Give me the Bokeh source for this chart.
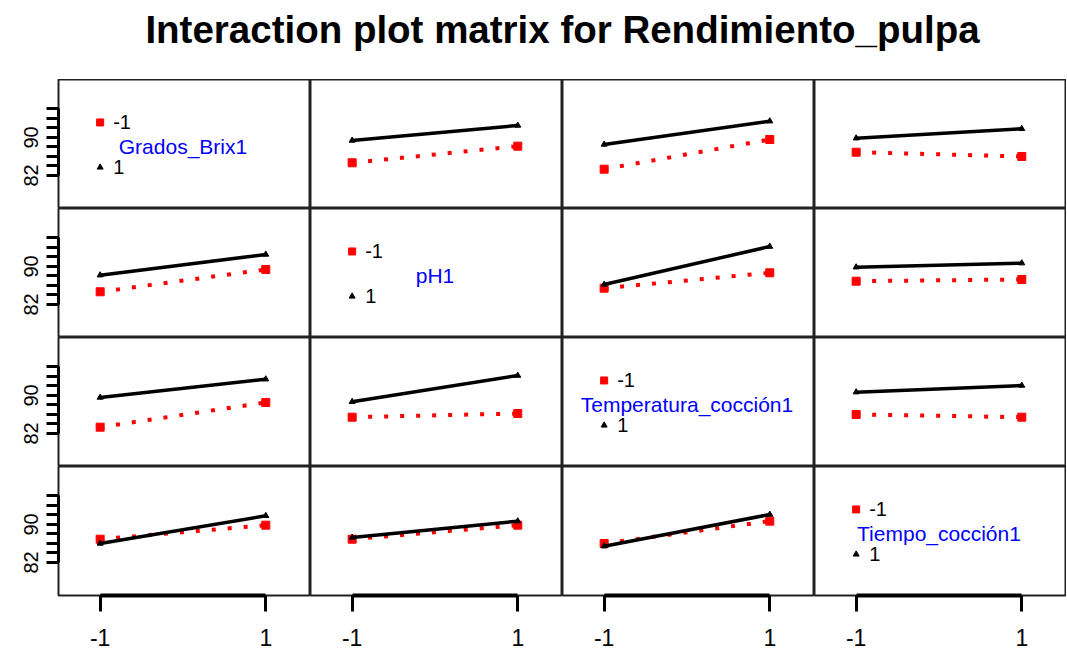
from bokeh.plotting import figure
from bokeh.layouts import gridplot, column
from bokeh.models import Range1d, FixedTicker, ColumnDataSource, Title
from bokeh.core.properties import value
from bokeh.embed import file_html
from bokeh.resources import INLINE

# ---------------- data ----------------
title_text = "Interaction plot matrix for Rendimiento_pulpa"
factor_names = ["Grados_Brix1", "pH1", "Temperatura_cocción1", "Tiempo_cocción1"]
levels = [-1, 1]
level_labels = ["-1", "1"]

# cell means: rows = level (-1, 1) of first factor, cols = level (-1, 1) of second factor
brix_ph = [[84.67, 88.17], [89.37, 92.53]]
brix_temp = [[83.33, 89.58], [88.53, 93.43]]
brix_tiempo = [[86.90, 86.00], [89.85, 91.83]]
ph_temp = [[85.43, 88.67], [86.20, 94.20]]
ph_tiempo = [[86.90, 87.26], [89.85, 90.70]]
temp_tiempo = [[86.00, 85.43], [90.70, 92.10]]

y_ticks = [82, 84, 86, 88, 90, 92, 94, 96]
y_tick_labels = {82: "82", 90: "90"}
x_ticks = [-1, 1]
x_tick_labels = {-1: "-1", 1: "1"}

pair_means = {(0, 1): brix_ph, (0, 2): brix_temp, (0, 3): brix_tiempo,
              (1, 2): ph_temp, (1, 3): ph_tiempo, (2, 3): temp_tiempo}


def cell_means(i, j):
    """2x2 table: rows = level of factor i (trace), cols = level of factor j (x axis)."""
    if (i, j) in pair_means:
        return pair_means[(i, j)]
    m = pair_means[(j, i)]
    return [[m[0][0], m[1][0]], [m[0][1], m[1][1]]]


# ---------------- layout / style ----------------
FONT = "Liberation Sans"
LEFT, CELL_W, CELL_H, TOP, BOTTOM = 58, 252, 129, 79, 54
X_LO, X_HI = -1.503, 1.54
Y_LO, Y_HI = 75.05, 102.2
RED = "#FF0000"
BLUE = "#0000FF"

rows = []
for i in range(4):
    row = []
    for j in range(4):
        w = CELL_W + (LEFT if j == 0 else 0)
        h = CELL_H + (BOTTOM if i == 3 else 0)
        p = figure(width=w, height=h,
                   x_range=Range1d(X_LO, X_HI), y_range=Range1d(Y_LO, Y_HI),
                   toolbar_location=None, output_backend="svg",
                   x_axis_location="below" if i == 3 else None,
                   y_axis_location="left" if j == 0 else None,
                   min_border_left=LEFT if j == 0 else 0, min_border_right=0,
                   min_border_top=0, min_border_bottom=BOTTOM if i == 3 else 0)
        p.xgrid.visible = False
        p.ygrid.visible = False
        p.outline_line_color = "#222222"
        p.outline_line_width = 2
        p.background_fill_color = "white"
        p.border_fill_color = "white"

        if j == 0:
            ax = p.yaxis[0]
            ax.ticker = FixedTicker(ticks=y_ticks)
            ax.major_label_overrides = {t: y_tick_labels.get(t, "") for t in y_ticks}
            ax.bounds = (y_ticks[0], y_ticks[-1])
            ax.axis_line_width = 3
            ax.axis_line_color = "black"
            ax.major_tick_line_width = 3
            ax.major_tick_out = 12
            ax.major_tick_in = 0
            ax.minor_tick_line_color = None
            ax.major_label_orientation = "vertical"
            ax.major_label_text_font = FONT
            ax.major_label_text_font_size = "20px"
            ax.major_label_text_color = "black"
            ax.major_label_standoff = 8
        if i == 3:
            ax = p.xaxis[0]
            ax.ticker = FixedTicker(ticks=x_ticks)
            ax.major_label_overrides = x_tick_labels
            ax.bounds = (x_ticks[0], x_ticks[-1])
            ax.axis_line_width = 4
            ax.axis_line_color = "black"
            ax.major_tick_line_width = 3
            ax.major_tick_out = 16
            ax.major_tick_in = 0
            ax.minor_tick_line_color = None
            ax.major_label_text_font = FONT
            ax.major_label_text_font_size = "23px"
            ax.major_label_text_color = "black"
            ax.major_label_standoff = 17

        if i == j:
            span = Y_HI - Y_LO
            y_a = Y_LO + 0.667 * span
            y_b = Y_LO + 0.477 * span
            y_c = Y_LO + 0.319 * span
            x_l = levels[0]
            p.scatter(x=[x_l], y=[y_a], marker="square", size=7, color=RED)
            p.scatter(x=[x_l], y=[y_c], marker="triangle", size=6, color="black")
            p.text(x=[x_l, x_l], y=[y_a, y_c], text=level_labels, x_offset=13,
                   text_font=value(FONT), text_font_size="20px", text_color="black",
                   text_align="left", text_baseline="middle")
            p.text(x=[(levels[0] + levels[1]) / 2], y=[y_b], text=[factor_names[i]],
                   text_font=value(FONT), text_font_size="21px", text_color=BLUE,
                   text_align="center", text_baseline="middle")
        else:
            m = cell_means(i, j)
            src_lo = ColumnDataSource(dict(x=levels, y=m[0]))
            src_hi = ColumnDataSource(dict(x=levels, y=m[1]))
            p.line("x", "y", source=src_lo, line_color=RED, line_width=4, line_dash="4 12")
            p.scatter("x", "y", source=src_lo, marker="square", size=8, color=RED)
            p.line("x", "y", source=src_hi, line_color="black", line_width=3.5)
            p.scatter("x", "y", source=src_hi, marker="triangle", size=6, color="black")
        row.append(p)
    rows.append(row)

grid = gridplot(rows, toolbar_location=None)

tf = figure(width=LEFT + 4 * CELL_W, height=TOP, toolbar_location=None, output_backend="svg",
            x_axis_location=None, y_axis_location=None,
            min_border_left=LEFT, min_border_right=0, min_border_top=7, min_border_bottom=0)
tf.outline_line_color = None
tf.title = Title(text=title_text, align="center", text_font=FONT, text_font_size="38.5px",
                 text_font_style="bold", text_color="black")

layout = column(tf, grid)
open("out.html", "w").write(file_html(layout, INLINE))
